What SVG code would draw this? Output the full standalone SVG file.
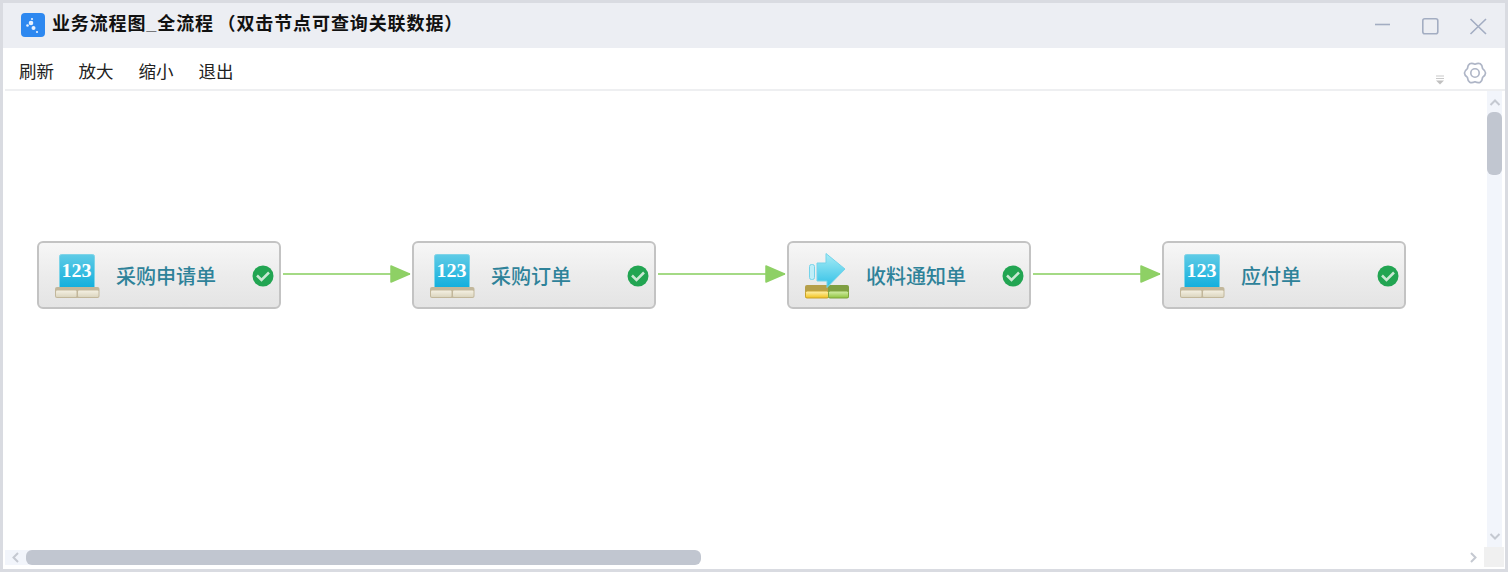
<svg xmlns="http://www.w3.org/2000/svg" width="1508" height="572" viewBox="0 0 1508 572">
<style>
text{font-family:"Liberation Sans","Noto Sans CJK SC",sans-serif}
.title{font-size:18px;font-weight:700;fill:#111}
.menu{font-size:17.5px;fill:#222}
.label{font-size:20px;fill:#2e8299;font-weight:500}
.box{fill:url(#nodeFill);stroke:#c3c3c3;stroke-width:2}
.line{stroke:#a4da85;stroke-width:2;fill:none;marker-end:url(#arrow)}
.ctl{fill:none;stroke:#a3adc2;stroke-width:1.6}
.chev{fill:none;stroke:#c5c9d1;stroke-width:2}
.thumb{fill:#c1c6d0}
.track{fill:#f2f5fb}
</style>
<defs>
<linearGradient id="nodeFill" x1="0" y1="0" x2="0" y2="1"><stop offset="0" stop-color="#f7f7f7"/><stop offset=".5" stop-color="#ececec"/><stop offset="1" stop-color="#e4e4e4"/></linearGradient>
<linearGradient id="screen" x1="0" y1="0" x2="0" y2="1"><stop offset="0" stop-color="#5fcbe6"/><stop offset="1" stop-color="#10aedc"/></linearGradient>
<linearGradient id="cream" x1="0" y1="0" x2="0" y2="1"><stop offset="0" stop-color="#f4f0e2"/><stop offset="1" stop-color="#dcd6c0"/></linearGradient>
<linearGradient id="arrowFill" x1="0" y1="0" x2="0" y2="1"><stop offset="0" stop-color="#a8ecf6"/><stop offset="1" stop-color="#2fc0e6"/></linearGradient>
<linearGradient id="yel" x1="0" y1="0" x2="0" y2="1"><stop offset="0" stop-color="#fff3b0"/><stop offset="1" stop-color="#f2c21e"/></linearGradient>
<linearGradient id="grn" x1="0" y1="0" x2="0" y2="1"><stop offset="0" stop-color="#d5efaa"/><stop offset="1" stop-color="#8fc43e"/></linearGradient>
<marker id="arrow" markerUnits="userSpaceOnUse" markerWidth="24" markerHeight="20" refX="21" refY="10" orient="auto"><path d="M2 2 L20.500 10 L2 18 Z" fill="#8ed065" stroke="#8ed065" stroke-width="1.500" stroke-linejoin="round"/></marker>
<g id="doc">
<rect x="22.500" y="14.500" width="35" height="34" rx="2" fill="url(#screen)" stroke="#7fd4e8"/>
<rect x="18" y="47" width="44.500" height="11" rx="2" fill="#c2b79b"/>
<rect x="19" y="50.500" width="20.500" height="6.500" rx="1" fill="url(#cream)"/>
<rect x="41" y="50.500" width="20.500" height="6.500" rx="1" fill="url(#cream)"/>
<text x="39.500" y="37" text-anchor="middle" textLength="30" lengthAdjust="spacingAndGlyphs" style="font-family:'Liberation Serif',serif;font-size:19px;font-weight:700;fill:#fff">123</text>
</g>
<g id="recv">
<rect x="805" y="285" width="24" height="13" rx="2" fill="#b59f4a"/>
<rect x="805.500" y="291" width="23" height="7" rx="1.500" fill="url(#yel)" stroke="#c9a22a"/>
<rect x="828" y="285" width="21" height="13" rx="2" fill="#7f9f42"/>
<rect x="828.500" y="291" width="20" height="7" rx="1.500" fill="url(#grn)" stroke="#7ea43a"/>
<rect x="809.500" y="264.500" width="5" height="15" rx="2" fill="#bfeef8" stroke="#74d3ea"/>
<path d="M817 263 H826 V253.500 L845 269 L827 287.500 V281 H817 Z" fill="url(#arrowFill)" stroke="#74d3ea" stroke-linejoin="round"/>
</g>
<g id="ok">
<circle cx="0" cy="0" r="10.500" fill="#22a552"/>
<path d="M-6 -0.500 L-1.500 4 L6 -3.500" fill="none" stroke="#c9e8d3" stroke-width="2.500"/>
</g>
</defs>
<rect width="1508" height="572" fill="#d9dbe1"/>
<rect x="3" y="3" width="1502" height="566" fill="#fff"/>
<g id="titlebar">
<rect x="3" y="3" width="1502" height="45" fill="#eceef3"/>
<rect x="21" y="13" width="24" height="24" rx="4" fill="#2d88f0"/>
<circle cx="31" cy="23" r="2.300" fill="#e8f2ff"/><circle cx="27.500" cy="25.500" r="1.300" fill="#e8f2ff"/><circle cx="33.500" cy="28" r="2" fill="#e8f2ff"/><circle cx="37" cy="32" r="1.100" fill="#e8f2ff"/><circle cx="32" cy="19" r="1.100" fill="#e8f2ff"/>
<text class="title" x="52" y="30" textLength="161" lengthAdjust="spacing">业务流程图_全流程</text>
<text class="title" x="217.500" y="30" letter-spacing="0.900">（双击节点可查询关联数据）</text>
<path class="ctl" d="M1375 24.500 H1390"/>
<rect class="ctl" x="1422.800" y="18.800" width="15" height="15" rx="2"/>
<path class="ctl" d="M1470.500 19 L1486 34 M1486 19 L1470.500 34"/>
</g>
<g id="toolbar">
<text class="menu" x="19" y="78">刷新</text>
<text class="menu" x="78.500" y="78">放大</text>
<text class="menu" x="138.500" y="78">缩小</text>
<text class="menu" x="198.500" y="78">退出</text>
<rect x="5" y="89" width="1500" height="2" fill="#eeeff1"/>
<path d="M1436 76 H1444 M1436 78.500 H1444" stroke="#c9c9c9" stroke-width="1"/>
<path d="M1436 80.500 H1444 L1440 84.500 Z" fill="#c0c0c0"/>
<circle cx="1475" cy="73" r="4.200" fill="none" stroke="#aeb5c6" stroke-width="1.600"/>
<path transform="translate(1475,73)" d="M7.600 4.400 Q6.750 11.700 0 8.800 Q-6.750 11.700 -7.600 4.400 Q-13.500 0 -7.600 -4.400 Q-6.750 -11.700 0 -8.800 Q6.750 -11.700 7.600 -4.400 Q13.500 0 7.600 4.400 Z" fill="none" stroke="#aeb5c6" stroke-width="1.700" stroke-linejoin="round"/>
</g>
<g id="scrollbars">
<rect class="track" x="1487" y="91" width="15" height="456"/>
<path class="chev" d="M1490.500 105 L1495 100.500 L1499.500 105"/>
<rect class="thumb" x="1487" y="112" width="15" height="63" rx="6"/>
<path class="chev" d="M1490.500 534 L1495 538.500 L1499.500 534"/>
<rect class="track" x="5" y="550" width="30" height="15"/>
<path class="chev" d="M18 553 L13.500 557.500 L18 562"/>
<rect class="thumb" x="26" y="550" width="675" height="15" rx="6"/>
<path class="chev" d="M1471 553 L1475.500 557.500 L1471 562"/>
<rect x="1484" y="547" width="20" height="20" fill="#f0f0f0"/>
</g>
<g id="connectors">
<path class="line" d="M283 274 H410"/>
<path class="line" d="M658 274 H785"/>
<path class="line" d="M1033 274 H1160"/>
</g>
<g id="node-1"><rect class="box" x="38" y="242" width="242" height="66" rx="5"/><use href="#doc" x="37" y="240"/><text class="label" x="116" y="284">采购申请单</text><use href="#ok" x="263" y="276"/></g>
<g id="node-2"><rect class="box" x="413" y="242" width="242" height="66" rx="5"/><use href="#doc" x="412" y="240"/><text class="label" x="491" y="284">采购订单</text><use href="#ok" x="638" y="276"/></g>
<g id="node-3"><rect class="box" x="788" y="242" width="242" height="66" rx="5"/><use href="#recv"/><text class="label" x="866" y="284">收料通知单</text><use href="#ok" x="1013" y="276"/></g>
<g id="node-4"><rect class="box" x="1163" y="242" width="242" height="66" rx="5"/><use href="#doc" x="1162" y="240"/><text class="label" x="1241" y="284">应付单</text><use href="#ok" x="1388" y="276"/></g>
</svg>
